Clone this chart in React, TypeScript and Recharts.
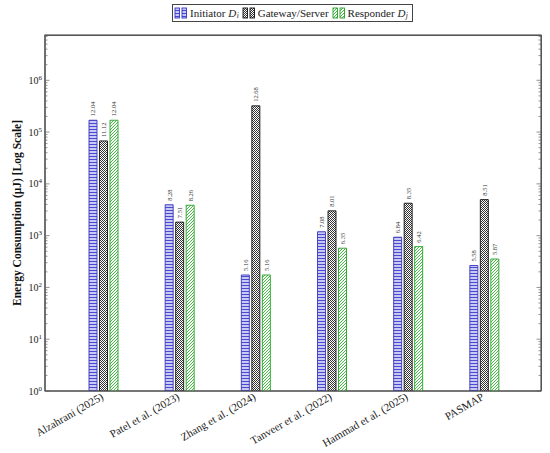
import React from "react";
import { BarChart, Bar, XAxis, YAxis, LabelList } from "recharts";

const CATEGORIES = [
  "Alzahrani (2025)",
  "Patel et al. (2023)",
  "Zhang et al. (2024)",
  "Tanveer et al. (2022)",
  "Hammad et al. (2025)",
  "PASMAP",
];
// energy in µJ (bar heights)
const INITIATOR = [169400, 3944, 174, 1188, 934, 265];
const GATEWAY = [67500, 1826, 321300, 3011, 4230, 4964];
const RESPONDER = [169400, 3866, 174, 572, 614, 354];
// numbers printed above each bar
const INITIATOR_LABELS = ["12.04", "8.28", "5.16", "7.08", "6.84", "5.58"];
const GATEWAY_LABELS = ["11.12", "7.51", "12.68", "8.01", "8.35", "8.51"];
const RESPONDER_LABELS = ["12.04", "8.26", "5.16", "6.35", "6.42", "5.87"];

const MAJOR_TICKS = [1, 10, 100, 1000, 10000, 100000, 1000000];
const Y_MAX = 7.5e6;

const FONT = "'Liberation Serif', 'DejaVu Serif', serif";
const FRAME = "#555";

// chart box and the plot rectangle that follows from it
const W = 550;
const H = 453;
const MARGIN = { top: 35, right: 9, bottom: 0, left: 15 };
const Y_AXIS_W = 30;
const X_AXIS_H = 62;
const PLOT_LEFT = MARGIN.left + Y_AXIS_W;
const PLOT_W = W - PLOT_LEFT - MARGIN.right;
const PLOT_H = H - MARGIN.top - MARGIN.bottom - X_AXIS_H;

const data = CATEGORIES.map((name, i) => ({
  name,
  ini: INITIATOR[i],
  gw: GATEWAY[i],
  resp: RESPONDER[i],
  iniL: INITIATOR_LABELS[i],
  gwL: GATEWAY_LABELS[i],
  respL: RESPONDER_LABELS[i],
}));

const ALL_TICKS: number[] = [];
MAJOR_TICKS.forEach((m) => {
  for (let k = 1; k <= 9; k++) {
    if (m * k <= Y_MAX) ALL_TICKS.push(m * k);
  }
});

const isMajor = (v: number) => MAJOR_TICKS.includes(v);

// left tick + label, plus the mirrored inward tick on the right side of the frame
function LeftTick(props: any) {
  const { x, y, payload } = props;
  const v = payload.value;
  const major = isMajor(v);
  const len = major ? 4.5 : 2.5;
  const xl = Number(x);
  const xr = xl + PLOT_W;
  return (
    <g>
      <line x1={xl} x2={xl + len} y1={y} y2={y} stroke="#666" strokeWidth={0.7} />
      <line x1={xr - len} x2={xr} y1={y} y2={y} stroke="#666" strokeWidth={0.7} />
      {major && (
        <text x={xl - 3} y={Number(y) + 3.5} textAnchor="end" fontFamily={FONT} fontSize={10} fill="#222">
          10
          <tspan dy={-4} fontSize={7}>
            {Math.round(Math.log10(v))}
          </tspan>
        </text>
      )}
    </g>
  );
}

function CategoryTick(props: any) {
  const { x, y, payload } = props;
  const ax = Number(x) + 1;
  const ay = Number(y) + 8;
  return (
    <text
      x={ax}
      y={ay}
      textAnchor="end"
      fontFamily={FONT}
      fontSize={11}
      fill="#222"
      transform={`rotate(-30, ${ax}, ${ay})`}
    >
      {payload.value}
    </text>
  );
}

function ValueLabel(props: any) {
  const { x, y, width, value } = props;
  const cx = Number(x) + Number(width) / 2;
  const ty = Number(y) - 4;
  return (
    <text
      x={cx}
      y={ty}
      transform={`rotate(-90, ${cx}, ${ty})`}
      textAnchor="start"
      dominantBaseline="central"
      fontFamily={FONT}
      fontSize={6.5}
      fill="#333"
    >
      {value}
    </text>
  );
}

const SERIES = [
  { key: "ini", label: "iniL", fill: "blue", stroke: "#3434c0" },
  { key: "gw", label: "gwL", fill: "gray", stroke: "#111" },
  { key: "resp", label: "respL", fill: "green", stroke: "#22a022" },
];

function LegendIcon({ kind, stroke }: { kind: string; stroke: string }) {
  return (
    <svg width={14} height={12} style={{ marginRight: 2 }}>
      <rect x={1} y={1} width={4.5} height={10} fill={`url(#bar-${kind})`} stroke={stroke} strokeWidth={0.9} />
      <rect x={8} y={1} width={4.5} height={10} fill={`url(#bar-${kind})`} stroke={stroke} strokeWidth={0.9} />
    </svg>
  );
}

function Sub({ c }: { c: string }) {
  return (
    <span style={{ fontSize: 7.5, fontStyle: "italic", position: "relative", top: 3, marginLeft: 0.5 }}>{c}</span>
  );
}

function Legend() {
  const item = { display: "flex", alignItems: "center", marginRight: 3 } as React.CSSProperties;
  return (
    <div
      style={{
        position: "absolute",
        left: 172,
        top: 4,
        width: 241,
        height: 18,
        border: "1px solid #444",
        boxSizing: "border-box",
        display: "flex",
        alignItems: "center",
        paddingLeft: 1,
        fontFamily: FONT,
        fontSize: 11,
        lineHeight: "12px",
        color: "#222",
        whiteSpace: "nowrap",
      }}
    >
      <span style={item}>
        <LegendIcon kind="blue" stroke="#3434c0" />
        Initiator&nbsp;<i>D</i>
        <Sub c="i" />
      </span>
      <span style={item}>
        <LegendIcon kind="gray" stroke="#111" />
        Gateway/Server
      </span>
      <span style={item}>
        <LegendIcon kind="green" stroke="#22a022" />
        Responder&nbsp;<i>D</i>
        <Sub c="j" />
      </span>
    </div>
  );
}

export default function App() {
  return (
    <div style={{ position: "absolute", left: 0, top: 0, width: W, height: H, background: "#fff" }}>
      <BarChart width={W} height={H} data={data} margin={MARGIN} barSize={8} barGap={2.5}>
        <defs>
          <pattern id="bar-blue" patternUnits="userSpaceOnUse" width="4" height="3">
            <rect width="4" height="3" fill="#c9c9f4" />
            <line x1="0" x2="4" y1="0.5" y2="0.5" stroke="#4a4ad0" strokeWidth="1" />
          </pattern>
          <pattern id="bar-gray" patternUnits="userSpaceOnUse" width="2" height="2">
            <rect width="2" height="2" fill="#fff" />
            <rect width="1" height="1" fill="#333" />
            <rect x="1" y="1" width="1" height="1" fill="#333" />
          </pattern>
          <pattern id="bar-green" patternUnits="userSpaceOnUse" width="3" height="3">
            <rect width="3" height="3" fill="#fff" />
            <path d="M-1,1 l2,-2 M0,3 l3,-3 M2,4 l2,-2" stroke="#2fb82f" strokeWidth="0.9" />
          </pattern>
        </defs>
        {/* plot frame */}
        <rect
          x={PLOT_LEFT}
          y={MARGIN.top}
          width={PLOT_W}
          height={PLOT_H}
          fill="none"
          stroke={FRAME}
          strokeWidth={1.2}
        />
        <XAxis
          dataKey="name"
          interval={0}
          height={X_AXIS_H}
          tickLine={false}
          tickSize={0}
          tickMargin={0}
          tick={<CategoryTick />}
          axisLine={{ stroke: FRAME, strokeWidth: 1.2 }}
          padding={{ left: 20, right: 19 }}
        />
        <YAxis
          scale="log"
          domain={[1, Y_MAX]}
          allowDataOverflow
          ticks={ALL_TICKS}
          interval={0}
          width={Y_AXIS_W}
          tickLine={false}
          tickSize={0}
          tickMargin={0}
          tick={<LeftTick />}
          axisLine={{ stroke: FRAME, strokeWidth: 1.2 }}
          label={{
            value: "Energy Consumption (μJ) [Log Scale]",
            angle: -90,
            position: "insideLeft",
            offset: 2,
            style: { fontFamily: FONT, fontSize: 11.5, fontWeight: "bold", fill: "#111", textAnchor: "middle" },
          }}
        />
        {SERIES.map((s) => (
          <Bar
            key={s.key}
            dataKey={s.key}
            fill={`url(#bar-${s.fill})`}
            stroke={s.stroke}
            strokeWidth={0.9}
            isAnimationActive={false}
          >
            <LabelList dataKey={s.label} content={<ValueLabel />} />
          </Bar>
        ))}
      </BarChart>
      {/* top and right edges of the plot frame */}
      <div
        style={{
          position: "absolute",
          left: PLOT_LEFT,
          top: MARGIN.top - 0.5,
          width: PLOT_W + 0.5,
          height: PLOT_H,
          borderTop: `1px solid ${FRAME}`,
          borderRight: `1px solid ${FRAME}`,
          boxSizing: "border-box",
          pointerEvents: "none",
        }}
      />
      <Legend />
    </div>
  );
}
